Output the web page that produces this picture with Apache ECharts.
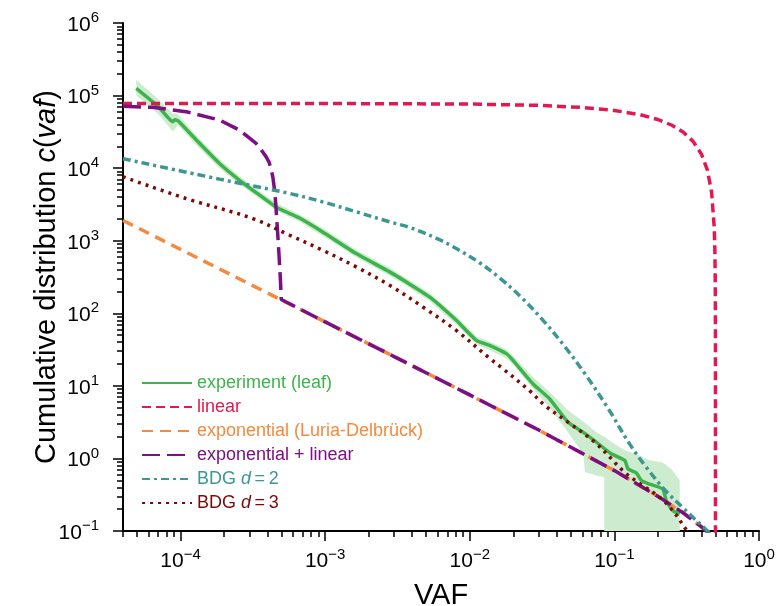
<!DOCTYPE html>
<html>
<head>
<meta charset="utf-8">
<script src="https://cdn.jsdelivr.net/npm/echarts@6/dist/echarts.min.js"></script>
<style>
  html, body { margin: 0; padding: 0; background: #fff; }
  #chart { width: 778px; height: 606px; }
</style>
</head>
<body>
<div id="chart"></div>
<script>
// axis ticks
const xMajor = [1e-4, 1e-3, 1e-2, 1e-1, 1];
const xDecades = [1e-5, 1e-4, 1e-3, 1e-2, 1e-1];
const yMajor = [1e-1, 1, 10, 100, 1e3, 1e4, 1e5, 1e6];
const yDecades = [1e-1, 1, 10, 100, 1e3, 1e4, 1e5];

// experiment (leaf) line
const expF = [4.94e-5, 7e-5, 8.85e-5, 9.1e-5, 9.6e-5, 1.29e-4, 1.86e-4, 2.56e-4, 3.52e-4, 4.59e-4, 5.6e-4, 6.65e-4, 9.6e-4, 1.64e-3, 2.79e-3, 3.64e-3, 5.27e-3, 8.07e-3, 1.11e-2, 1.37e-2, 1.79e-2, 1.99e-2, 2.73e-2, 3.56e-2, 4.77e-2, 6.06e-2, 7.5e-2, 9.5e-2, 0.118, 0.124, 0.142, 0.153, 0.171, 0.216, 0.228, 0.254, 0.283];
const expC = [1.26e5, 7.1e4, 4.35e4, 4.65e4, 4.5e4, 2.43e4, 1.16e4, 6.8e3, 4.25e3, 2.9e3, 2.4e3, 2.05e3, 1.32e3, 665, 372, 270, 168, 80, 42.4, 36.2, 27.8, 22.5, 10.7, 6.65, 3.17, 2.3, 1.68, 1.16, 0.94, 0.72, 0.63, 0.50, 0.45, 0.38, 0.264, 0.19, 0.172];

// experiment uncertainty band
const bandF = [4.94e-5, 7e-5, 8.85e-5, 9.1e-5, 9.6e-5, 1.29e-4, 1.86e-4, 2.56e-4, 3.52e-4, 4.59e-4, 6.65e-4, 9.6e-4, 1.64e-3, 2.79e-3, 3.64e-3, 5.27e-3, 8.07e-3, 1.11e-2, 1.37e-2, 1.79e-2, 1.99e-2, 2.73e-2, 3.56e-2, 4.77e-2, 6.1e-2, 6.25e-2, 7.5e-2, 8.5e-2, 8.52e-2, 9.5e-2, 0.118, 0.142, 0.171, 0.216, 0.25, 0.283, 0.2832];
const bandLo = [1.0e5, 5.6e4, 3.2e4, 3.4e4, 3.9e4, 2.05e4, 1.0e4, 6.0e3, 3.8e3, 2.6e3, 1.82e3, 1.17e3, 590, 330, 240, 148, 70, 37, 31, 24, 19.5, 9.3, 5.0, 2.3, 1.15, 0.65, 0.58, 0.55, 0.01, 0.01, 0.01, 0.01, 0.01, 0.01, 0.01, 0.01, 0.01];
const bandHi = [1.65e5, 8.9e4, 5.6e4, 5.7e4, 5.5e4, 2.8e4, 1.33e4, 7.7e3, 4.8e3, 3.3e3, 2.3e3, 1.5e3, 750, 420, 305, 190, 91, 48, 41, 32, 26, 13.2, 8.2, 4.6, 3.2, 3.1, 2.3, 2.0, 2.0, 1.7, 1.3, 1.15, 0.95, 0.88, 0.7, 0.5, 0.01];

// linear model
const linF = [4e-5, 1e-3, 1e-2, 3e-2, 0.06, 0.1, 0.15, 0.2, 0.25, 0.3, 0.35, 0.4, 0.44, 0.47, 0.49, 0.495, 0.498, 0.499, 0.4998, 0.49997, 0.499997, 0.4999997];
const linC = [78000, 77800, 76400, 73300, 68600, 62400, 54600, 46800, 39000, 31200, 23400, 15600, 9360, 4680, 1560, 780, 312, 156, 31, 4.7, 0.47, 0.047];

// exponential (Luria-Delbrück)
const ldF = [4e-5, 1e-4, 3e-4, 5e-4, 1e-3, 3e-3, 1e-2, 3e-2, 0.1, 0.2, 0.3, 0.4, 0.45, 0.5];
const ldC = [1900, 760, 253, 152, 76, 25.3, 7.5, 2.46, 0.68, 0.30, 0.177, 0.114, 0.093, 0.076];

// exponential + linear
const elF = [4e-5, 6.4e-5, 1.09e-4, 1.86e-4, 2.56e-4, 3.33e-4, 3.6e-4, 3.91e-4, 4.1e-4, 4.24e-4, 4.35e-4, 4.47e-4, 4.55e-4, 4.63e-4, 4.71e-4, 4.79e-4, 4.86e-4, 4.92e-4, 4.97e-4, 1e-3, 3e-3, 1e-2, 3e-2, 0.1, 0.2, 0.3, 0.4, 0.45, 0.5];
const elC = [71000, 69000, 60000, 46000, 33400, 21900, 18000, 14300, 12000, 9400, 7500, 4970, 3300, 1920, 1150, 665, 400, 257, 155, 76, 25.3, 7.5, 2.46, 0.68, 0.30, 0.177, 0.114, 0.093, 0.076];

// BDG d=2
const bdg2F = [4e-5, 1.86e-4, 5.68e-4, 9.6e-4, 1.64e-3, 2.79e-3, 3.7e-3, 4.74e-3, 6.2e-3, 8.07e-3, 1.14e-2, 1.61e-2, 2.28e-2, 3.21e-2, 4.54e-2, 6.41e-2, 9.06e-2, 0.128, 0.165, 0.22, 0.3, 0.43, 0.47];
const bdg2C = [13500, 7050, 4480, 3430, 2500, 1820, 1560, 1300, 1030, 780, 515, 307, 165, 80, 34.8, 13.7, 4.86, 1.56, 0.77, 0.38, 0.206, 0.105, 0.09];

// BDG d=3
const bdg3F = [4e-5, 1.09e-4, 3.16e-4, 5.68e-4, 9.6e-4, 1.64e-3, 2.79e-3, 4.74e-3, 8.07e-3, 1.37e-2, 1.69e-2, 2.66e-2, 3.29e-2, 4.77e-2, 7.5e-2, 0.121, 0.206, 0.254, 0.305, 0.33];
const bdg3C = [7600, 3820, 2020, 1190, 740, 436, 243, 122, 58, 24, 17.3, 8.2, 5.4, 3.17, 1.6, 0.615, 0.29, 0.19, 0.113, 0.09];

const FONT = "Liberation Sans, Arial, Helvetica, sans-serif";
const C_EXP = "#3cb44b", C_BAND = "#cdeccf", C_LIN = "#e2194f", C_LD = "#f58a3c",
      C_EL = "#7d0f85", C_B2 = "#3b9791", C_B3 = "#7a0b0b";

const zip = (xs, ys) => xs.map((x, i) => [x, ys[i]]);

function minorOf(decades) {
  const out = [];
  decades.forEach(d => { for (let m = 2; m <= 9; m++) out.push(d * m); });
  return out;
}
const xMinor = minorOf(xDecades).filter(v => v >= 3.99e-5 && v <= 1);
const yMinor = minorOf(yDecades);

function powLabel(v) {
  const e = Math.round(Math.log10(v));
  return "{b|10}{s|" + (e < 0 ? "\u2212" + (-e) : e) + "}";
}
const labelRich = {
  b: { fontSize: 21, lineHeight: 25, verticalAlign: "bottom", fontFamily: FONT, color: "#000" },
  s: { fontSize: 15, lineHeight: 15, verticalAlign: "top", fontFamily: FONT, color: "#000" }
};

const X_MIN = 4e-5, X_MAX = 1, Y_MIN = 0.1, Y_MAX = 1e6;

function baseAxis(extra) {
  return Object.assign({
    type: "log",
    logBase: 10,
    splitLine: { show: false },
    minorTick: { show: false },
    minorSplitLine: { show: false }
  }, extra);
}

const chart = echarts.init(document.getElementById("chart"), null, { renderer: "canvas" });

const line = (name, xs, ys, color, width, dash, smooth) => ({
  name, type: "line", data: zip(xs, ys),
  symbol: "none", showSymbol: false, smooth: smooth || false, clip: true,
  lineStyle: { color, width, type: dash, cap: "butt" },
  itemStyle: { color },
  emphasis: { disabled: true }
});

const legendItem = (name, color) => ({ name, textStyle: { color } });

// band drawn as one polygon through the axis scales
function renderBand(params, api) {
  if (params.dataIndex !== 0) return null;
  const pts = [];
  for (let i = 0; i < bandF.length; i++) pts.push(api.coord([bandF[i], bandHi[i]]));
  for (let i = bandF.length - 1; i >= 0; i--) pts.push(api.coord([bandF[i], bandLo[i]]));
  return {
    type: "polygon",
    shape: { points: pts, smooth: 0 },
    style: { fill: C_BAND, stroke: null }
  };
}

chart.setOption({
  animation: false,
  backgroundColor: "#fff",
  grid: { left: 123, right: 19, top: 23, bottom: 75, containLabel: false, outerBoundsMode: "none" },
  xAxis: [
    baseAxis({
      min: X_MIN, max: X_MAX,
      name: "VAF", nameLocation: "middle", nameGap: 50, nameMoveOverlap: false,
      nameTextStyle: { fontSize: 29, fontFamily: FONT, color: "#000" },
      axisLine: { show: true, lineStyle: { color: "#000", width: 2 } },
      axisTick: { show: true, inside: false, length: 10, customValues: xMajor, lineStyle: { color: "#000", width: 1.5 } },
      axisLabel: { show: true, margin: 16, customValues: xMajor, formatter: powLabel, rich: labelRich }
    }),
    baseAxis({
      min: X_MIN, max: X_MAX, position: "bottom",
      axisLine: { show: false },
      axisTick: { show: true, inside: false, length: 6, customValues: xMinor, lineStyle: { color: "#000", width: 1.5 } },
      axisLabel: { show: false }
    })
  ],
  yAxis: [
    baseAxis({
      min: Y_MIN, max: Y_MAX,
      name: "{n|Cumulative distribution }{i|c}{n|(}{i|vaf}{n|)}",
      nameLocation: "middle", nameGap: 62, nameMoveOverlap: false,
      nameTextStyle: {
        fontFamily: FONT, color: "#000",
        rich: {
          n: { fontSize: 29, fontFamily: FONT, color: "#000" },
          i: { fontSize: 29, fontFamily: FONT, color: "#000", fontStyle: "italic" }
        }
      },
      axisLine: { show: true, lineStyle: { color: "#000", width: 2 } },
      axisTick: { show: true, inside: false, length: 10, customValues: yMajor, lineStyle: { color: "#000", width: 1.5 } },
      axisLabel: { show: true, margin: 24, customValues: yMajor, formatter: powLabel, rich: labelRich }
    }),
    baseAxis({
      min: Y_MIN, max: Y_MAX, position: "left",
      axisLine: { show: false },
      axisTick: { show: true, inside: false, length: 6, customValues: yMinor, lineStyle: { color: "#000", width: 1.5 } },
      axisLabel: { show: false }
    })
  ],
  legend: {
    orient: "vertical",
    left: 136, top: 369,
    itemWidth: 50, itemHeight: 14, itemGap: 6,
    padding: 5,
    textStyle: {
      fontSize: 18, fontFamily: FONT, lineHeight: 18,
      rich: { i: { fontSize: 18, fontFamily: FONT, fontStyle: "italic", lineHeight: 18 } }
    },
    itemStyle: { opacity: 0 },
    selectedMode: false,
    data: [
      legendItem("experiment (leaf)", C_EXP),
      legendItem("linear", C_LIN),
      legendItem("exponential (Luria-Delbrück)", C_LD),
      legendItem("exponential + linear", C_EL),
      legendItem("BDG d=2", C_B2),
      legendItem("BDG d=3", C_B3)
    ],
    formatter: function (name) {
      if (name === "BDG d=2") return "BDG {i|d}\u2009=\u20092";
      if (name === "BDG d=3") return "BDG {i|d}\u2009=\u20093";
      return name;
    }
  },
  series: [
    {
      name: "band", type: "custom", renderItem: renderBand,
      data: bandF.map((f, i) => [f, bandLo[i], bandHi[i]]),
      encode: { x: 0, y: [1, 2] },
      clip: true, silent: true, z: 1
    },
    line("experiment (leaf)", expF, expC, C_EXP, 3.5, "solid", 0.15),
    line("linear", linF, linC, C_LIN, 3.5, [9, 5]),
    line("exponential (Luria-Delbrück)", ldF, ldC, C_LD, 3.5, [11, 7]),
    line("exponential + linear", elF, elC, C_EL, 3.5, [18, 7]),
    line("BDG d=2", bdg2F, bdg2C, C_B2, 3.5, [8, 4, 3, 4], 0.35),
    line("BDG d=3", bdg3F, bdg3C, C_B3, 3.5, [3, 5], 0.35)
  ]
});
</script>
</body>
</html>
